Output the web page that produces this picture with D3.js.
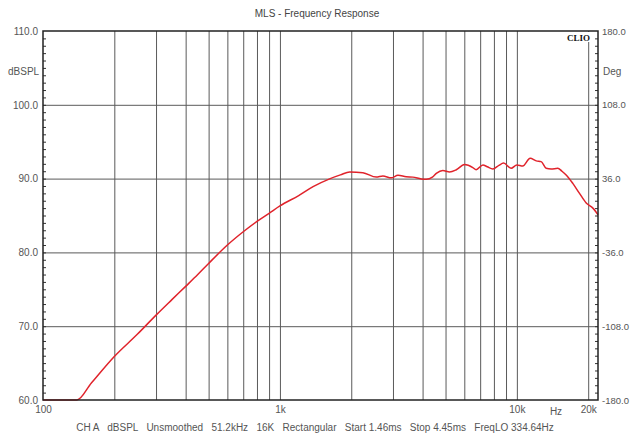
<!DOCTYPE html>
<html>
<head>
<meta charset="utf-8">
<script src="https://cdn.jsdelivr.net/npm/d3@7"></script>
<style>
  body { margin: 0; background: #fff; }
  svg text { font-family: "Liberation Sans", Arial, sans-serif; }
</style>
</head>
<body>
<div id="grafico"></div>
<script>
// Datos
const freqs = [100, 139, 160, 200, 250, 300, 350, 400, 450, 500, 600, 700, 800, 900, 1000,
  1200, 1380, 1630, 1800, 1970, 2240, 2550, 2720, 2950, 3150, 3410, 3640, 3950, 4150,
  4400, 4570, 4870, 5200, 5550, 6010, 6520, 6730, 7190, 7500, 7920, 8400, 8790, 9460,
  10000, 10590, 11380, 12070, 12660, 13290, 13950, 14880, 15500, 16140, 17220, 18380,
  19620, 20930, 22000];
const spl = [60, 60, 62.3, 65.9, 68.9, 71.5, 73.6, 75.4, 77.0, 78.5, 81.0, 82.8, 84.2, 85.3, 86.3,
  87.7, 88.9, 90.0, 90.5, 90.9, 90.8, 90.2, 90.35, 90.1, 90.45, 90.25, 90.2, 89.95, 89.9,
  90.2, 90.7, 91.1, 90.9, 91.2, 91.9, 91.5, 91.2, 91.85, 91.6, 91.3, 91.8, 92.1, 91.4,
  91.85, 91.7, 92.75, 92.4, 92.3, 91.4, 91.3, 91.4, 91.0, 90.5, 89.35, 88.0,
  86.7, 86.0, 85.1];

const dbTicks = [60, 70, 80, 90, 100, 110];
const degTicks = [-180, -108, -36, 36, 108, 180];
const gridFreqs = [200, 300, 400, 500, 600, 700, 800, 900, 1000, 2000, 3000, 4000, 5000,
  6000, 7000, 8000, 9000, 10000, 20000];
const freqLabelVals = [100, 1000, 10000, 20000];
const freqLabels = ["100", "1k", "10k", "20k"];

const width = 631;
const height = 434;
const margin = { top: 31, right: 33, bottom: 34, left: 43 };

const svg = d3.select("#grafico").append("svg")
  .attr("width", width).attr("height", height);

const x = d3.scaleLog().domain([100, 22000]).range([margin.left, width - margin.right]);
const y = d3.scaleLinear().domain([60, 110]).range([height - margin.bottom, margin.top]);
const y2 = d3.scaleLinear().domain([-180, 180]).range([height - margin.bottom, margin.top]);

const yTop = margin.top, yBot = height - margin.bottom;
const xLeft = margin.left, xRight = width - margin.right;
const fmt = d => d.toFixed(1);

// Rejilla vertical
svg.append("g")
  .attr("transform", `translate(0,${yBot})`)
  .call(d3.axisBottom(x).tickValues(gridFreqs).tickSize(-(yBot - yTop)).tickFormat(""))
  .call(g => g.select(".domain").remove())
  .call(g => g.selectAll("line").attr("stroke", "#5a5a5a").attr("stroke-width", 1));

// Rejilla horizontal
svg.append("g")
  .attr("transform", `translate(${xLeft},0)`)
  .call(d3.axisLeft(y).tickValues([70, 80, 90, 100]).tickSize(-(xRight - xLeft)).tickFormat(""))
  .call(g => g.select(".domain").remove())
  .call(g => g.selectAll("line").attr("stroke", "#5a5a5a").attr("stroke-width", 1));

// Marcas menores (hacia dentro)
svg.append("g")
  .attr("transform", `translate(${xLeft},0)`)
  .call(d3.axisRight(y).tickValues(d3.range(61, 110, 1)).tickSize(3).tickFormat(""))
  .call(g => g.select(".domain").remove())
  .call(g => g.selectAll("line").attr("stroke", "#333"));
svg.append("g")
  .attr("transform", `translate(${xRight},0)`)
  .call(d3.axisLeft(y2).tickValues(d3.range(-172.8, 180, 7.2)).tickSize(3).tickFormat(""))
  .call(g => g.select(".domain").remove())
  .call(g => g.selectAll("line").attr("stroke", "#333"));

// Etiquetas eje izquierdo
svg.append("g")
  .attr("transform", `translate(${xLeft - 2},0)`)
  .call(d3.axisLeft(y).tickValues(dbTicks).tickSize(0).tickFormat(fmt))
  .call(g => g.select(".domain").remove())
  .call(g => g.selectAll("text").attr("fill", "#555").style("font-size", "10px"));

// Etiquetas eje derecho
svg.append("g")
  .attr("transform", `translate(${xRight + 1},0)`)
  .call(d3.axisRight(y2).tickValues(degTicks).tickSize(0).tickFormat(fmt))
  .call(g => g.select(".domain").remove())
  .call(g => g.selectAll("text").attr("fill", "#555").style("font-size", "9.5px"));

// Etiquetas eje X
svg.append("g")
  .attr("transform", `translate(0,${yBot + 3})`)
  .call(d3.axisBottom(x).tickValues(freqLabelVals).tickSize(0)
    .tickFormat((d, i) => freqLabels[i]))
  .call(g => g.select(".domain").remove())
  .call(g => g.selectAll("text").attr("fill", "#555").style("font-size", "10px"));

// Curva
const line = d3.line()
  .x((d, i) => x(freqs[i]))
  .y(d => y(d))
  .curve(d3.curveMonotoneX);

svg.append("path")
  .datum(spl)
  .attr("fill", "none")
  .attr("stroke", "#e0232b")
  .attr("stroke-width", 1.5)
  .attr("d", line);

// Marco
svg.append("rect")
  .attr("x", xLeft).attr("y", yTop)
  .attr("width", xRight - xLeft).attr("height", yBot - yTop)
  .attr("fill", "none").attr("stroke", "#222").attr("stroke-width", 1.5);

// Textos
svg.append("text")
  .attr("x", 317).attr("y", 17)
  .attr("text-anchor", "middle")
  .attr("fill", "#444").style("font-size", "10px")
  .text("MLS - Frequency Response");

svg.append("text").attr("x", 8).attr("y", 75)
  .attr("fill", "#555").style("font-size", "10px").text("dBSPL");
svg.append("text").attr("x", 603).attr("y", 75)
  .attr("fill", "#555").style("font-size", "10px").text("Deg");
svg.append("text").attr("x", 556).attr("y", yBot + 15)
  .attr("text-anchor", "middle")
  .attr("fill", "#555").style("font-size", "10px").text("Hz");

svg.append("rect").attr("x", 565).attr("y", 32).attr("width", 28).attr("height", 10).attr("fill", "#fff");
svg.append("text").attr("x", 590).attr("y", 41)
  .attr("text-anchor", "end")
  .attr("fill", "#111").style("font-size", "9px").style("font-weight", "bold")
  .style("font-family", "'Liberation Serif', serif")
  .text("CLIO");

svg.append("text")
  .attr("x", 315).attr("y", 431)
  .attr("text-anchor", "middle")
  .attr("fill", "#555").style("font-size", "10px")
  .attr("xml:space", "preserve")
  .text("CH A   dBSPL   Unsmoothed   51.2kHz   16K   Rectangular   Start 1.46ms   Stop 4.45ms   FreqLO 334.64Hz");
</script>
</body>
</html>
